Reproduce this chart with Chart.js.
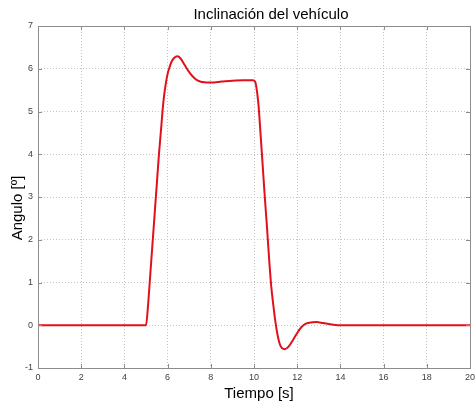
<!DOCTYPE html>
<html>
<head>
<meta charset="utf-8">
<script src="https://cdn.jsdelivr.net/npm/chart.js@4"></script>
<style>
  body { margin: 0; background: #fff; }
  #wrap { width: 475px; height: 410px; }
</style>
</head>
<body>
<div id="wrap"><canvas id="grafico"></canvas></div>
<script>
// valores
const tiempo = [0, 2, 4, 5.0, 5.1, 5.2, 5.3, 5.4, 5.5, 5.6, 5.7, 5.8, 5.9, 6.0, 6.1, 6.2, 6.3, 6.45,
  6.6, 6.8, 7.0, 7.2, 7.4, 7.6, 7.8, 8.0, 8.5, 9.0, 9.5, 9.95,
  10.05, 10.1, 10.2, 10.3, 10.4, 10.5, 10.6, 10.7, 10.8, 10.9, 11.0, 11.1, 11.2, 11.3, 11.43,
  11.6, 11.8, 12.0, 12.2, 12.4, 12.7, 12.9, 13.2, 13.6, 14.0, 16, 18, 20];
const angulo = [0, 0, 0, 0, 0.5, 1.2, 1.9, 2.6, 3.3, 4.0, 4.6, 5.2, 5.6, 5.88, 6.05, 6.18, 6.25, 6.29,
  6.24, 6.08, 5.92, 5.8, 5.72, 5.69, 5.68, 5.68, 5.7, 5.72, 5.73, 5.73,
  5.7, 5.6, 5.2, 4.5, 3.75, 3.0, 2.3, 1.55, 0.9, 0.45, 0.05, -0.25, -0.45, -0.54, -0.56,
  -0.5, -0.35, -0.18, -0.04, 0.04, 0.07, 0.075, 0.05, 0.02, 0, 0, 0, 0];
const ticksX = [0, 2, 4, 6, 8, 10, 12, 14, 16, 18, 20];
const ticksY = [-1, 0, 1, 2, 3, 4, 5, 6, 7];

const titulo = "Inclinación del vehículo";
const etiquetaX = "Tiempo [s]";
const etiquetaY = "Angulo [º]";

const fuente = "'Liberation Sans', Arial, sans-serif";

// caja, marcas interiores y textos al estilo MATLAB
const cajaMatlab = {
  id: "cajaMatlab",
  afterDraw(chart) {
    const { ctx, chartArea: a, scales } = chart;
    ctx.save();
    ctx.strokeStyle = "#8c8c8c";
    ctx.lineWidth = 1;
    ctx.beginPath();
    ticksX.forEach((v) => {
      const px = Math.round(scales.x.getPixelForValue(v)) + 0.5;
      ctx.moveTo(px, a.bottom); ctx.lineTo(px, a.bottom - 4);
      ctx.moveTo(px, a.top); ctx.lineTo(px, a.top + 4);
    });
    ticksY.forEach((v) => {
      const py = Math.round(scales.y.getPixelForValue(v)) + 0.5;
      ctx.moveTo(a.left, py); ctx.lineTo(a.left + 4, py);
      ctx.moveTo(a.right, py); ctx.lineTo(a.right - 4, py);
    });
    ctx.stroke();
    ctx.strokeRect(Math.round(a.left) + 0.5, Math.round(a.top) + 0.5,
      Math.round(a.right - a.left), Math.round(a.bottom - a.top));

    ctx.fillStyle = "#000";
    ctx.font = "15px " + fuente;
    ctx.textAlign = "center";
    ctx.textBaseline = "alphabetic";
    ctx.fillText(titulo, 271, 19);
    ctx.fillText(etiquetaX, 259, 398);
    ctx.translate(22, 208);
    ctx.rotate(-Math.PI / 2);
    ctx.fillText(etiquetaY, 0, 0);
    ctx.restore();
  },
};

new Chart(document.getElementById("grafico").getContext("2d"), {
  type: "line",
  data: {
    datasets: [
      {
        data: tiempo.map((t, i) => ({ x: t, y: angulo[i] })),
        borderColor: "#e3101c",
        borderWidth: 2,
        pointRadius: 0,
        cubicInterpolationMode: "monotone",
        fill: false,
      },
    ],
  },
  options: {
    responsive: true,
    maintainAspectRatio: false,
    animation: false,
    layout: { padding: { top: 26, right: 5, bottom: 22, left: 0 } },
    plugins: {
      legend: { display: false },
      tooltip: { enabled: false },
    },
    scales: {
      x: {
        type: "linear",
        min: 0,
        max: 20,
        afterBuildTicks: (s) => { s.ticks = ticksX.map((v) => ({ value: v })); },
        afterFit: (s) => { s.height = 20; s.paddingLeft = 0; s.paddingRight = 0; },
        grid: { color: "#c4c4c4", drawTicks: false },
        border: { display: false, dash: [1, 2] },
        ticks: {
          padding: 4,
          maxRotation: 0,
          color: "#404040",
          font: { family: fuente, size: 9 },
        },
      },
      y: {
        min: -1,
        max: 7,
        afterBuildTicks: (s) => { s.ticks = ticksY.map((v) => ({ value: v })); },
        afterFit: (s) => { s.width = 38; s.paddingTop = 0; s.paddingBottom = 0; },
        grid: { color: "#c4c4c4", drawTicks: false },
        border: { display: false, dash: [1, 2] },
        ticks: {
          padding: 5,
          color: "#404040",
          font: { family: fuente, size: 9 },
        },
      },
    },
  },
  plugins: [cajaMatlab],
});
</script>
</body>
</html>
